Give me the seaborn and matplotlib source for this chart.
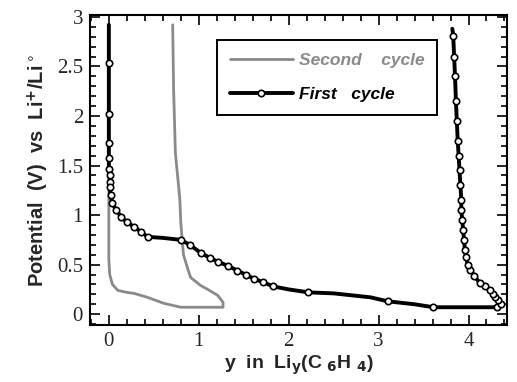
import numpy as np
import pandas as pd
import matplotlib
matplotlib.use("Agg")
import matplotlib.pyplot as plt
import seaborn as sns
from matplotlib.lines import Line2D
from matplotlib.ticker import MultipleLocator

# first cycle (black, open circles)
first_x = [0.0, 0.0, 0.0, 0.0, 0.0, 0.0, 0.01, 0.01, 0.01, 0.02, 0.04, 0.08, 0.14, 0.2,
           0.28, 0.36, 0.43, 0.6, 0.8, 0.9, 1.02, 1.12, 1.21, 1.32, 1.43, 1.52, 1.61, 1.72,
           1.83, 2.0, 2.22, 2.5, 2.91, 3.1, 3.4, 3.61, 4.0, 4.32, 4.36, 4.33, 4.3, 4.27,
           4.24, 4.18, 4.13, 4.06, 4.02, 3.99, 3.97, 3.96, 3.95, 3.94, 3.93, 3.92, 3.92,
           3.91, 3.9, 3.89, 3.88, 3.87, 3.86, 3.85, 3.84, 3.83, 3.82]
first_y = [2.92, 2.53, 2.02, 1.73, 1.58, 1.47, 1.4, 1.33, 1.28, 1.2, 1.12, 1.05, 0.98, 0.93,
           0.88, 0.83, 0.78, 0.77, 0.75, 0.7, 0.62, 0.57, 0.53, 0.49, 0.44, 0.4, 0.36, 0.32,
           0.28, 0.25, 0.22, 0.21, 0.17, 0.13, 0.1, 0.07, 0.07, 0.07, 0.1, 0.14, 0.17, 0.2,
           0.24, 0.28, 0.31, 0.39, 0.45, 0.5, 0.58, 0.65, 0.75, 0.85, 0.95, 1.05, 1.15,
           1.3, 1.45, 1.6, 1.75, 1.95, 2.15, 2.4, 2.6, 2.81, 2.88]
# points of the first cycle drawn without a circle
first_plain = [0, 17, 29, 31, 32, 34, 36, 64]

# second cycle (grey line)
second_x = [0.0, 0.0, 0.0, 0.01, 0.04, 0.1, 0.2, 0.28, 0.43, 0.61, 0.8, 1.0, 1.27, 1.27,
            1.21, 1.1, 1.02, 0.91, 0.88, 0.86, 0.83, 0.82, 0.8, 0.79, 0.78, 0.74, 0.72, 0.71]
second_y = [2.92, 1.12, 0.55, 0.4, 0.3, 0.24, 0.22, 0.21, 0.17, 0.11, 0.07, 0.07, 0.07, 0.12,
            0.19, 0.25, 0.29, 0.37, 0.45, 0.51, 0.6, 0.7, 0.93, 1.15, 1.25, 1.63, 2.28, 2.92]

legend_labels = ["Second    cycle", "First   cycle"]

sns.set_style("ticks")
plt.rcParams["font.family"] = ["Liberation Serif", "DejaVu Serif"]

fig = plt.figure(figsize=(5.17, 3.82), dpi=100)
ax = fig.add_axes([0.174, 0.149, 0.807, 0.812])

df1 = pd.DataFrame({"y": first_x, "V": first_y})
df2 = pd.DataFrame({"y": second_x, "V": second_y})

grey = "#8a8a8a"
sns.lineplot(data=df2, x="y", y="V", sort=False, estimator=None, color=grey,
             lw=2.0, ax=ax)
marked = [i for i in range(len(first_x)) if i not in first_plain]
sns.lineplot(data=df1, x="y", y="V", sort=False, estimator=None, color="black",
             lw=2.8, marker="o", markersize=4.6, markerfacecolor="white",
             markeredgecolor="black", markeredgewidth=1.2,
             markevery=marked, ax=ax)

ax.set_xlim(-0.21, 4.43)
ax.set_ylim(-0.11, 3.02)
ax.xaxis.set_minor_locator(MultipleLocator(0.2))
ax.yaxis.set_minor_locator(MultipleLocator(0.1))
ax.set_xticks([0, 1, 2, 3, 4])
ax.set_xticklabels(["0", "1", "2", "3", "4"])
ax.set_yticks([0, 0.5, 1, 1.5, 2, 2.5, 3])
ax.set_yticklabels(["0", "0.5", "1", "1.5", "2", "2.5", "3"])
ax.tick_params(which="both", direction="in", top=True, right=True, width=1.2,
               labelsize=15, color="black")
ax.tick_params(which="major", length=7, pad=5)
ax.tick_params(which="minor", length=4)
for s in ax.spines.values():
    s.set_linewidth(1.5)
    s.set_color("black")

lab = dict(family=["Liberation Sans", "DejaVu Sans"], fontweight="bold")
ax.set_xlabel(r"y  in  Li$_\mathbf{y}$(C$\;_\mathbf{6}$H$\;_\mathbf{4}$)", labelpad=2,
              fontsize=14, **lab)
ax.set_ylabel(r"Potential  (V)  vs  Li$^\mathbf{+}$/Li$^\circ$", labelpad=4,
              fontsize=14.5, **lab)

handles = [Line2D([], [], color=grey, lw=2.0),
           Line2D([], [], color="black", lw=2.8, marker="o", markersize=4.6,
                  markerfacecolor="white", markeredgewidth=1.2)]
leg = ax.legend(handles, legend_labels, loc="upper left", bbox_to_anchor=(0.305, 0.919),
                borderaxespad=0, handlelength=3.6, handletextpad=0.35, borderpad=0.75,
                labelspacing=1.1, fancybox=False, framealpha=1, edgecolor="black",
                prop=dict(family=["Liberation Sans", "DejaVu Sans"], weight="bold",
                          style="italic", size=12.5),
                labelcolor=[grey, "black"])
leg.get_frame().set_linewidth(1.4)

fig.savefig("out.png", dpi=100)
